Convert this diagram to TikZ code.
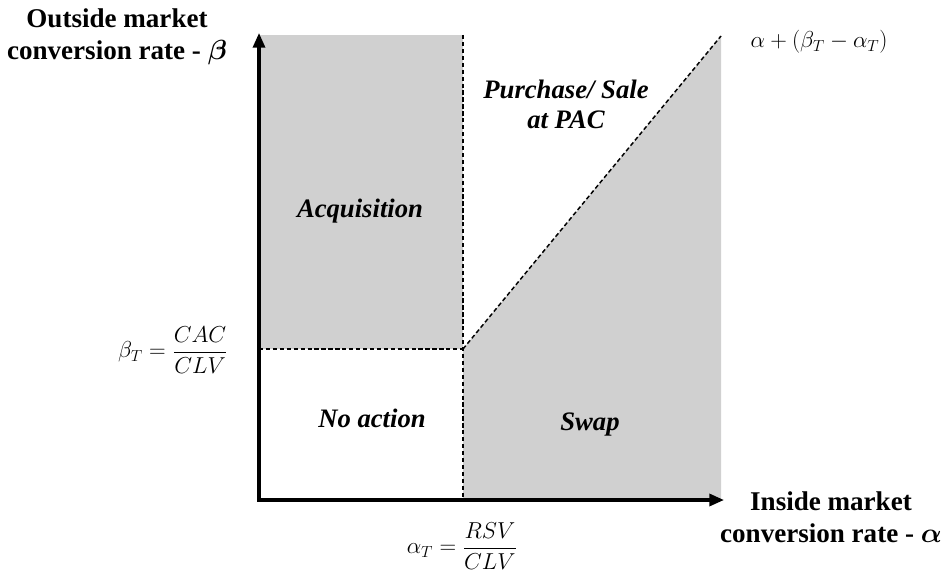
\documentclass[tikz,border=0pt]{standalone}
\usepackage{amsmath}
\usepackage{bm}
\usepackage{fontspec}
\setmainfont{Liberation Serif}
\usetikzlibrary{arrows.meta}
\definecolor{regiongray}{HTML}{D0D0D0}
\tikzset{
  axisline/.style={line width=2.4pt,-{Triangle[length=11pt,width=9pt]}},
  bound/.style={line width=1.1pt,dash pattern=on 3.2pt off 2pt},
  region/.style={fill=regiongray,draw=none},
  axislabel/.style={font=\fontsize{20.3}{24}\selectfont\bfseries,align=center},
  regionlabel/.style={font=\fontsize{20}{22.5}\selectfont\bfseries\itshape,align=center},
  mathlabel/.style={font=\fontsize{18.5}{21}\selectfont},
}
\begin{document}
\begin{tikzpicture}[x=0.75pt,y=-0.75pt]
\useasboundingbox (0,0) rectangle (945,573);
\coordinate (O) at (259,500);
\coordinate (ytop) at (259,33);
\coordinate (xend) at (724,500);
\coordinate (K) at (463,349);
\coordinate (Ktop) at (463,35);
\coordinate (Kbot) at (463,500);
\coordinate (Kleft) at (259,349);
\coordinate (D) at (721,36);
% regions
\fill[region] (259,35) rectangle (K);
\fill[region] (Kbot) -- (K) -- (D) -- (721,500) -- cycle;
% boundaries
\draw[bound] (Kleft) -- (K);
\draw[bound] (Ktop) -- (Kbot);
\draw[bound] (K) -- (D);
% axes
\draw[axisline] ([xshift=-1.2pt]O) -- (xend);
\draw[axisline] ([yshift=-1.2pt]O) -- (ytop);
% labels
\node[axislabel] (ylab) at (117,37) {Outside market\\conversion rate - $\bm{\beta}$};
\node[axislabel] (xlab) at (831,517) {Inside market\\conversion rate - $\bm{\alpha}$};
\node[mathlabel] (bT) at (173,350) {$\displaystyle \beta_T=\frac{CAC}{CLV}$};
\node[mathlabel] (aT) at (462,546) {$\displaystyle \alpha_T=\frac{RSV}{CLV}$};
\node[mathlabel,anchor=west] (diag) at (746,42) {$\alpha+(\beta_T-\alpha_T)$};
\node[regionlabel] (acq) at (360,211) {Acquisition};
\node[regionlabel] (pur) at (566,104) {Purchase/ Sale\\at PAC};
\node[regionlabel] (noa) at (372,418) {No action};
\node[regionlabel] (swap) at (590,425) {Swap};
\end{tikzpicture}
\end{document}
